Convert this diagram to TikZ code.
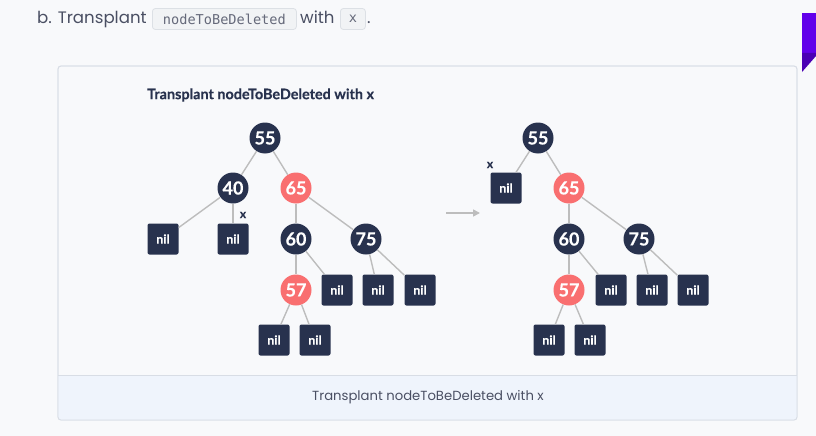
\documentclass[tikz,border=0pt]{standalone}
\usepackage{fontspec}
\usetikzlibrary{arrows.meta}
\setmainfont{Lato}[BoldFeatures={FakeBold=0.4}]
\newfontfamily\pop{Poppins}
\newfontfamily\mono{DejaVu Sans Mono}
\definecolor{navy}{HTML}{28324E}
\definecolor{salmon}{HTML}{F96F70}
\definecolor{edgegray}{HTML}{BDBDBD}
\definecolor{pagebg}{HTML}{F8F9FB}
\definecolor{cardborder}{HTML}{D8DDE5}
\definecolor{capbg}{HTML}{EFF4FC}
\definecolor{headtxt}{HTML}{4A4F63}
\definecolor{codebg}{HTML}{F1F3F5}
\definecolor{codeborder}{HTML}{DCE0E5}
\definecolor{purp}{HTML}{6200EA}
\definecolor{purpdark}{HTML}{4A00B4}
\tikzset{
  blk/.style={circle, fill=navy, minimum size=31pt, inner sep=0pt, text=white, font=\fontsize{18}{18}\selectfont\bfseries},
  red/.style={blk, fill=salmon},
  nilbox/.style={rectangle, rounded corners=2pt, fill=navy, minimum size=31pt, inner sep=0pt, text=white, font=\fontsize{12.5}{12.5}\selectfont\bfseries},
  edge/.style={draw=edgegray, line width=1.4pt},
  code/.style={rectangle, rounded corners=3pt, fill=codebg, draw=codeborder, line width=0.8pt, minimum height=21pt, inner sep=0pt, text=headtxt!85, font=\mono\fontsize{13.6}{13.6}\selectfont},
  xlab/.style={font=\fontsize{12}{12}\selectfont\bfseries, text=navy, inner sep=0pt},
  htext/.style={anchor=base west, inner sep=0pt, text=headtxt, font=\pop\fontsize{16.6}{16.6}\selectfont},
}
\begin{document}
\begin{tikzpicture}[x=1pt,y=-1pt]
\useasboundingbox (0,0) rectangle (816,436);
\fill[pagebg] (0,0) rectangle (816,436);
% purple tab
\fill[purp] (802,13) rectangle (816,53);
\fill[purpdark] (802,53) -- (816,53) -- (816,56) -- (802,72) -- cycle;
% header
\node[htext] (hb) at (37,24) {b. Transplant};
\node[code, minimum width=144pt, anchor=west] (c1) at (152,19) {nodeToBeDeleted};
\node[htext] (hw) at (300,24) {with};
\node[code, minimum width=25pt, anchor=west] (c2) at (340,19) {x};
\node[htext] (hd) at (367,24) {.};
% card
\draw[cardborder, fill=pagebg, line width=0.8pt, rounded corners=3pt] (58,66) rectangle (797,420);
\begin{scope}
\clip[rounded corners=3pt] (58,66) rectangle (797,420);
\fill[capbg] (58,375) rectangle (797,420);
\end{scope}
\draw[cardborder, line width=0.8pt] (58,375) -- (797,375);
\draw[cardborder, line width=0.8pt, rounded corners=3pt] (58,66) rectangle (797,420);
\node[text=headtxt, font=\pop\fontsize{13.2}{13.2}\selectfont] (cap) at (428,397) {Transplant nodeToBeDeleted with x};
% title
\node[anchor=west, text=navy, font=\fontsize{14.4}{14.4}\selectfont\bfseries, inner sep=0pt] (title) at (147,95) {Transplant nodeToBeDeleted with x};
% left tree
\node[blk] (a55) at (265,138) {55};
\node[blk] (a40) at (233,188) {40};
\node[red] (a65) at (296,188) {65};
\node[nilbox] (an1) at (163,239) {nil};
\node[nilbox] (an2) at (233,239) {nil};
\node[blk] (a60) at (296,239) {60};
\node[blk] (a75) at (366,239) {75};
\node[red] (a57) at (296,290) {57};
\node[nilbox] (an3) at (337,290) {nil};
\node[nilbox] (an4) at (378,290) {nil};
\node[nilbox] (an5) at (420,290) {nil};
\node[nilbox] (an6) at (274,340) {nil};
\node[nilbox] (an7) at (315,340) {nil};
\node[xlab] (ax) at (243,215) {x};
\draw[edge] (a55) -- (a40);
\draw[edge] (a55) -- (a65);
\draw[edge] (a40) -- (an1);
\draw[edge] (a40) -- (an2);
\draw[edge] (a65) -- (a60);
\draw[edge] (a65) -- (a75);
\draw[edge] (a60) -- (a57);
\draw[edge] (a60) -- (an3);
\draw[edge] (a75) -- (an4);
\draw[edge] (a75) -- (an5);
\draw[edge] (a57) -- (an6);
\draw[edge] (a57) -- (an7);
% arrow
\coordinate (arS) at (446,213);
\coordinate (arE) at (480,213);
\draw[edgegray, line width=1.6pt, -{Triangle[length=7pt,width=7pt]}] (arS) -- (arE);
% right tree
\node[blk] (b55) at (538,138) {55};
\node[nilbox] (bn0) at (506,188) {nil};
\node[red] (b65) at (569,188) {65};
\node[blk] (b60) at (569,239) {60};
\node[blk] (b75) at (639,239) {75};
\node[red] (b57) at (569,290) {57};
\node[nilbox] (bn3) at (611,290) {nil};
\node[nilbox] (bn4) at (652,290) {nil};
\node[nilbox] (bn5) at (693,290) {nil};
\node[nilbox] (bn6) at (549,340) {nil};
\node[nilbox] (bn7) at (590,340) {nil};
\node[xlab] (bx) at (490,165) {x};
\draw[edge] (b55) -- (bn0);
\draw[edge] (b55) -- (b65);
\draw[edge] (b65) -- (b60);
\draw[edge] (b65) -- (b75);
\draw[edge] (b60) -- (b57);
\draw[edge] (b60) -- (bn3);
\draw[edge] (b75) -- (bn4);
\draw[edge] (b75) -- (bn5);
\draw[edge] (b57) -- (bn6);
\draw[edge] (b57) -- (bn7);
\end{tikzpicture}
\end{document}
